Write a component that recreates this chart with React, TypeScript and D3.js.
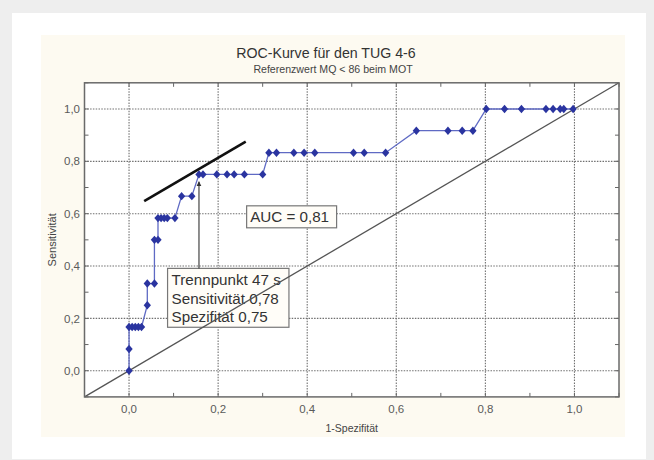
import React from "react";
import * as d3 from "d3";

// ROC points (1-Spezifität, Sensitivität)
const fpr = [
  0, 0, 0, 0.007, 0.014, 0.021, 0.028, 0.041, 0.041, 0.057, 0.057, 0.065,
  0.065, 0.072, 0.079, 0.086, 0.103, 0.118, 0.141, 0.157, 0.166, 0.197, 0.22,
  0.236, 0.259, 0.3, 0.314, 0.331, 0.37, 0.393, 0.417, 0.504, 0.528, 0.576,
  0.645, 0.716, 0.748, 0.772, 0.802, 0.843, 0.881, 0.936, 0.952, 0.968, 0.976,
  0.997,
];
const tpr = [
  0, 0.083, 0.167, 0.167, 0.167, 0.167, 0.167, 0.25, 0.333, 0.333, 0.5, 0.5,
  0.583, 0.583, 0.583, 0.583, 0.583, 0.667, 0.667, 0.75, 0.75, 0.75, 0.75,
  0.75, 0.75, 0.75, 0.833, 0.833, 0.833, 0.833, 0.833, 0.833, 0.833, 0.833,
  0.917, 0.917, 0.917, 0.917, 1, 1, 1, 1, 1, 1, 1, 1,
];

const gridTicks = [0, 0.2, 0.4, 0.6, 0.8, 1.0];
const minorTicks = [-0.1, 0, 0.1, 0.2, 0.3, 0.4, 0.5, 0.6, 0.7, 0.8, 0.9, 1.0, 1.1];

const title = "ROC-Kurve für den TUG 4-6";
const subtitle = "Referenzwert MQ < 86 beim MOT";
const xTitle = "1-Spezifität";
const yTitle = "Sensitivität";

// annotations, in data units
const tangentX = [0.034, 0.262];
const tangentY = [0.648, 0.875];
const cutX = 0.157;
const cutArrowY = [0.391, 0.722];
const cutBoxX = [0.0865, 0.359];
const cutBoxY = [0.391, 0.166];
const cutLines = ["Trennpunkt 47 s", "Sensitivität 0,78", "Spezifität 0,75"];
const aucBoxX = [0.264, 0.466];
const aucBoxY = [0.63, 0.546];
const aucText = "AUC = 0,81";

const W = 654;
const H = 460;
const font = "'Liberation Sans', Arial, sans-serif";

export default function App() {
  const x = d3.scaleLinear().domain([-0.1, 1.1]).range([84.5, 619]);
  const y = d3.scaleLinear().domain([-0.1, 1.1]).range([396.9, 82.8]);
  const fmt = d3.formatLocale({ decimal: ",", thousands: ".", grouping: [3], currency: ["", "€"] }).format(".1f");

  const pts = fpr.map((v, i) => [v, tpr[i]] as [number, number]);
  const line = d3
    .line<[number, number]>()
    .x((d) => x(d[0]))
    .y((d) => y(d[1]));
  const diamond = d3.symbol().type(d3.symbolDiamond2).size(34)();

  const [x0, x1] = x.range();
  const [y0, y1] = y.range();

  return (
    <>
      <style>{`body{margin:0}`}</style>
      <svg width={W} height={H} style={{ display: "block" }} fontFamily={font}>
        <defs>
          <marker id="arr" viewBox="0 0 10 10" refX="9" refY="5" markerWidth="5" markerHeight="7" orient="auto" markerUnits="userSpaceOnUse">
            <path d="M0,0 L10,5 L0,10 z" fill="#333" />
          </marker>
        </defs>
        <rect width={W} height={H} fill="#eeeeee" />
        <rect x={12} y={13} width={634} height={446} fill="#ffffff" />
        <rect x={41} y={35} width={584} height={402} fill="#fdfaf1" />

        <text x={326} y={58} textAnchor="middle" fontSize={14.2} fill="#333">
          {title}
        </text>
        <text x={333} y={73} textAnchor="middle" fontSize={10.6} fill="#444">
          {subtitle}
        </text>

        <rect x={x0} y={y1} width={x1 - x0} height={y0 - y1} fill="#ffffff" />

        {/* grid */}
        {gridTicks.map((t) => (
          <g key={"g" + t} stroke="#707070" strokeWidth={1.1} strokeDasharray="1.5,1.3">
            <line x1={x(t)} x2={x(t)} y1={y1} y2={y0} />
            <line x1={x0} x2={x1} y1={y(t)} y2={y(t)} />
          </g>
        ))}
        {minorTicks.map((t) => (
          <g key={"m" + t} stroke="#666" strokeWidth={1}>
            <line x1={x(t)} x2={x(t)} y1={y0} y2={y0 - 4} />
            <line x1={x(t)} x2={x(t)} y1={y1} y2={y1 + 4} />
            <line x1={x0} x2={x0 + 4} y1={y(t)} y2={y(t)} />
            <line x1={x1} x2={x1 - 4} y1={y(t)} y2={y(t)} />
          </g>
        ))}

        {/* boxes */}
        <rect
          x={x(cutBoxX[0])}
          y={y(cutBoxY[0])}
          width={x(cutBoxX[1]) - x(cutBoxX[0])}
          height={y(cutBoxY[1]) - y(cutBoxY[0])}
          fill="#fffdf8"
          stroke="#777"
          strokeWidth={1.2}
        />
        {cutLines.map((s, i) => (
          <text key={s} x={x(cutBoxX[0]) + 4} y={y(cutBoxY[0]) + 17 + i * 18.3} fontSize={15.2} fill="#333">
            {s}
          </text>
        ))}
        <rect
          x={x(aucBoxX[0])}
          y={y(aucBoxY[0])}
          width={x(aucBoxX[1]) - x(aucBoxX[0])}
          height={y(aucBoxY[1]) - y(aucBoxY[0])}
          fill="#fffdf8"
          stroke="#777"
          strokeWidth={1.2}
        />
        <text x={x(aucBoxX[0]) + 3.5} y={y(aucBoxY[0]) + 16} fontSize={15.2} fill="#333">
          {aucText}
        </text>

        {/* chance diagonal */}
        <line x1={x(-0.1)} y1={y(-0.1)} x2={x(1.1)} y2={y(1.1)} stroke="#555" strokeWidth={1.3} />

        {/* ROC curve */}
        <path d={line(pts) ?? ""} fill="none" stroke="#5f6ac4" strokeWidth={1.3} />
        {pts.map((d, i) => (
          <path key={i} d={diamond ?? ""} transform={`translate(${x(d[0])},${y(d[1])}) scale(1,1.15)`} fill="#2a34a0" />
        ))}

        {/* tangent + arrow */}
        <line x1={x(tangentX[0])} y1={y(tangentY[0])} x2={x(tangentX[1])} y2={y(tangentY[1])} stroke="#111" strokeWidth={2.6} />
        <line x1={x(cutX)} y1={y(cutArrowY[0])} x2={x(cutX)} y2={y(cutArrowY[1])} stroke="#444" strokeWidth={1.2} markerEnd="url(#arr)" />

        {/* frame */}
        <rect x={x0} y={y1} width={x1 - x0} height={y0 - y1} fill="none" stroke="#6a6a6a" strokeWidth={1.5} />

        {/* tick labels */}
        {gridTicks.map((t) => (
          <text key={"xl" + t} x={x(t)} y={y0 + 16.5} textAnchor="middle" fontSize={11.5} fill="#5a5a5a">
            {fmt(t)}
          </text>
        ))}
        {gridTicks.map((t) => (
          <text key={"yl" + t} x={x0 - 4.5} y={y(t)} dy="0.36em" textAnchor="end" fontSize={11.5} fill="#5a5a5a">
            {fmt(t)}
          </text>
        ))}

        <text x={(x0 + x1) / 2} y={431.5} textAnchor="middle" fontSize={10.5} fill="#444">
          {xTitle}
        </text>
        <text transform={`translate(56,${(y0 + y1) / 2}) rotate(-90)`} textAnchor="middle" fontSize={11} fill="#444">
          {yTitle}
        </text>
      </svg>
    </>
  );
}
